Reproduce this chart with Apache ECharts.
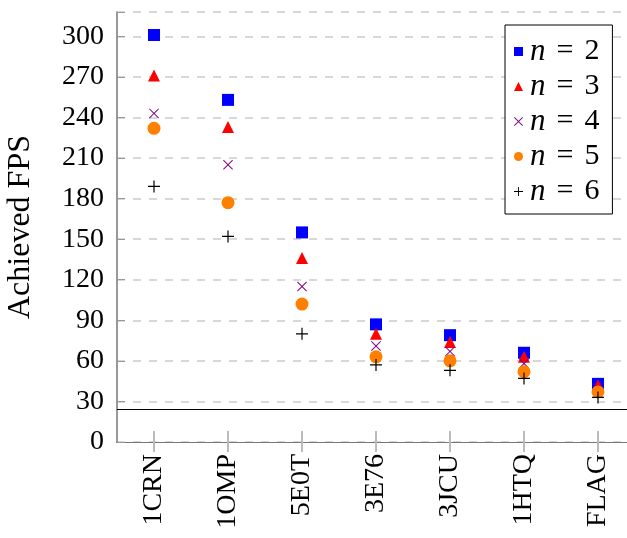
<!DOCTYPE html>
<html>
<head>
<meta charset="utf-8">
<script src="https://cdn.jsdelivr.net/npm/echarts@6/dist/echarts.min.js"></script>
<style>
  html, body { margin: 0; padding: 0; background: #fff; }
  #main { width: 627px; height: 538px; }
</style>
</head>
<body>
<div id="main"></div>
<script>
var categories = ['1CRN', '1OMP', '5E0T', '3E76', '3JCU', '1HTQ', 'FLAG'];
var yTicks = [0, 30, 60, 90, 120, 150, 180, 210, 240, 270, 300];
var n2 = [301, 253, 155, 87, 79, 66, 43];
var n3 = [271, 233, 136, 80, 74, 63, 42];
var n4 = [243, 205, 115, 71, 67, 58, 40];
var n5 = [232, 177, 102, 63, 60, 52, 37];
var n6 = [189, 152, 80, 57, 53, 47, 33];
var threshold = 24;

var myChart = echarts.init(document.getElementById('main'));

var font = 'Liberation Serif';
var plusPath = 'path://M4.5,0h1v4.5h4.5v1h-4.5v4.5h-1v-4.5h-4.5v-1h4.5z';
var crossPath = 'path://M0,0.7L0.7,0L5,4.3L9.3,0L10,0.7L5.7,5L10,9.3L9.3,10L5,5.7L0.7,10L0,9.3L4.3,5Z';

function scatter(name, data, symbol, size, color) {
  return {
    name: name,
    type: 'scatter',
    data: data,
    symbol: symbol,
    symbolSize: size,
    itemStyle: { color: color, opacity: 1 },
    emphasis: { disabled: true }
  };
}

var series = [
  scatter('2', n2, 'rect', 12, '#0000ff'),
  scatter('3', n3, 'triangle', 12, '#ff0000'),
  scatter('4', n4, crossPath, 10, '#800080'),
  scatter('5', n5, 'circle', 13, '#ff8000'),
  scatter('6', n6, plusPath, 12, '#000000')
];
// the 24 FPS line
series[0].markLine = {
  silent: true,
  symbol: 'none',
  label: { show: false },
  lineStyle: { color: '#000', width: 1, type: 'solid' },
  data: [{ yAxis: threshold }]
};

var option = {
  animation: false,
  grid: { left: 117, width: 518, top: 12, bottom: 96, outerBoundsMode: 'none' },
  legend: {
    left: 505, top: 25,
    orient: 'vertical',
    itemGap: 4,
    itemWidth: 9, itemHeight: 9,
    padding: [11, 13, 7, 9],
    borderColor: '#000', borderWidth: 1,
    backgroundColor: '#fff',
    formatter: function(name) { return '{i|n}{e|=}' + name; },
    textStyle: {
      fontFamily: font, fontSize: 30, color: '#000', padding: [0, 0, 0, 2],
      rich: {
        i: { fontFamily: font, fontStyle: 'italic', fontSize: 31 },
        e: { fontFamily: font, fontSize: 30, padding: [0, 11, 0, 11] }
      }
    },
    data: ['2', '3', '4', '5', '6']
  },
  xAxis: [{
    type: 'category',
    data: categories,
    boundaryGap: true,
    axisLine: { lineStyle: { color: '#000', width: 1 } },
    axisTick: { show: true, inside: true, alignWithLabel: true, interval: 0, length: 11, lineStyle: { color: '#bbb', width: 2 } },
    axisLabel: { rotate: 90, margin: 12, fontFamily: font, fontSize: 28, color: '#000', interval: 0 },
    splitLine: { show: false }
  }, {
    type: 'category',
    data: categories,
    position: 'top',
    boundaryGap: true,
    axisLine: { lineStyle: { color: '#777', width: 1 } },
    axisTick: { show: true, inside: true, alignWithLabel: true, interval: 0, length: 10, lineStyle: { color: '#bbb', width: 2 } },
    axisLabel: { show: false }
  }],
  yAxis: [{
    type: 'value',
    min: 0, max: 318,
    interval: 30,
    name: 'Achieved FPS',
    nameLocation: 'middle',
    nameGap: 80,
    nameTextStyle: { fontFamily: font, fontSize: 32, color: '#000' },
    axisLine: { show: true, lineStyle: { color: '#777', width: 1.5 } },
    axisTick: { show: true, inside: true, length: 8, lineStyle: { color: '#999' } },
    axisLabel: {
      margin: 13, fontFamily: font, fontSize: 28, color: '#000',
      formatter: function(v) { return yTicks.indexOf(v) >= 0 ? v : ''; }
    },
    splitLine: { show: true, lineStyle: { color: '#ccc', type: [8, 8], width: 1.5 } }
  }, {
    type: 'value',
    position: 'right',
    min: 0, max: 318,
    interval: 30,
    axisLine: { show: true, lineStyle: { color: '#777' } },
    axisTick: { show: true, inside: true, length: 8, lineStyle: { color: '#999' } },
    axisLabel: { show: false },
    splitLine: { show: false }
  }],
  series: series
};

myChart.setOption(option);
</script>
</body>
</html>
